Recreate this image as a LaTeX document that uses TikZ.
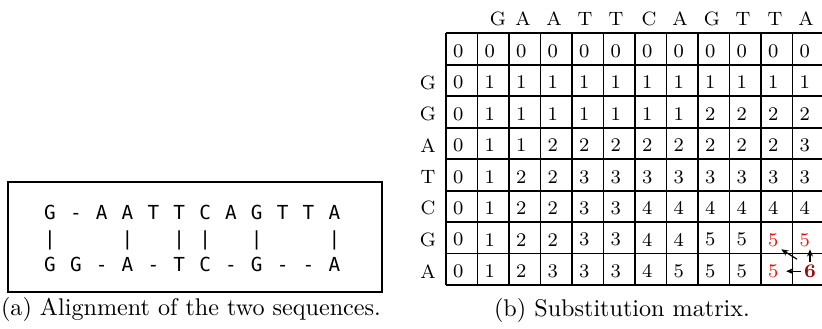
\documentclass[tikz,border=0pt]{standalone}
\usepackage{fontspec}
\newfontfamily\seqmono{DejaVu Sans Mono}
\definecolor{matchred}{RGB}{235,20,20}
\definecolor{scorered}{RGB}{150,10,10}
\usetikzlibrary{arrows.meta}

\begin{document}
\begin{tikzpicture}[x=0.01456cm, y=-0.01456cm,
    seq/.style={anchor=base, inner sep=0pt, font=\seqmono\fontsize{8}{10}\selectfont},
    frame/.style={draw=black, line width=0.5pt},
    gridline/.style={draw=black, line width=0.8pt},
    cell/.style={inner sep=1pt, font=\footnotesize},
    back/.style={-{Stealth[length=3pt,width=2.5pt]}, line width=0.5pt}]

    \useasboundingbox (0,0) rectangle (822,329);
    \clip (0,0) rectangle (822,329);

    % Alignment box
    \draw[frame] (8,182) rectangle (382,292);
    \foreach \ch [count=\i from 0] in {G,-,A,A,T,T,C,A,G,T,T,A}
        \node[seq] (top-\i) at ({50+25.85*\i},220) {\ch};
    \foreach \i in {0,3,5,6,8,11}
        \node[seq] (bar-\i) at ({50+25.85*\i},246) {|};
    \foreach \ch [count=\i from 0] in {G,G,-,A,-,T,C,-,G,-,-,A}
        \node[seq] (bot-\i) at ({50+25.85*\i},272) {\ch};

    % Matrix headers
    \foreach \ch/\x [count=\k] in {G/498,A/523,A/554,T/585,T/616,C/649,A/680,G/712,T/743,T/775,A/806}
        \node[cell] (col-\k) at (\x,19) {\ch};
    \foreach \ch [count=\r from 1] in {G,G,A,T,C,G,A}
        \node[cell] (row-\r) at (428,{51+31.46*\r}) {\ch};

    % Grid
    \foreach \k in {0,...,12}
        \draw[gridline] ({446+31.5*\k},33.3) -- ({446+31.5*\k},285);
    \foreach \k in {0,...,8}
        \draw[gridline] (446,{33.3+31.46*\k}) -- (830,{33.3+31.46*\k});

    % Scores
    \foreach \vals [count=\r from 0] in {
        {0,0,0,0,0,0,0,0,0,0,0,0},
        {0,1,1,1,1,1,1,1,1,1,1,1},
        {0,1,1,1,1,1,1,1,2,2,2,2},
        {0,1,1,2,2,2,2,2,2,2,2,3},
        {0,1,2,2,3,3,3,3,3,3,3,3},
        {0,1,2,2,3,3,4,4,4,4,4,4},
        {0,1,2,2,3,3,4,4,5,5},
        {0,1,2,3,3,3,4,5,5,5}}
        \foreach \v [count=\c from 1] in \vals
            \node[cell] (v-\r-\c) at ({446+31.5*\c-19.25},{51+31.46*\r}) {\v};
    \node[cell, text=matchred] (v-6-11) at (773.25,239.8) {5};
    \node[cell, text=matchred] (v-6-12) at (804.75,239.8) {5};
    \node[cell, text=matchred] (v-7-11) at (773.25,271.2) {5};
    \node[cell, text=scorered, font=\footnotesize\bfseries] (v-7-12) at (810,271.2) {6};

    % Traceback arrows
    \draw[back, shorten >=2pt] (v-7-12.west) -- (v-7-11.east);
    \draw[back] (v-7-12.north) -- (v-7-12.north |- v-6-12.south);
    \draw[back, shorten <=2pt] (v-7-12.north west) -- (v-6-11.south east);

    % Captions
    \node (capa) at (191,309) {(a) Alignment of the two sequences.};
    \node (capb) at (622,310) {(b) Substitution matrix.};
\end{tikzpicture}
\end{document}
